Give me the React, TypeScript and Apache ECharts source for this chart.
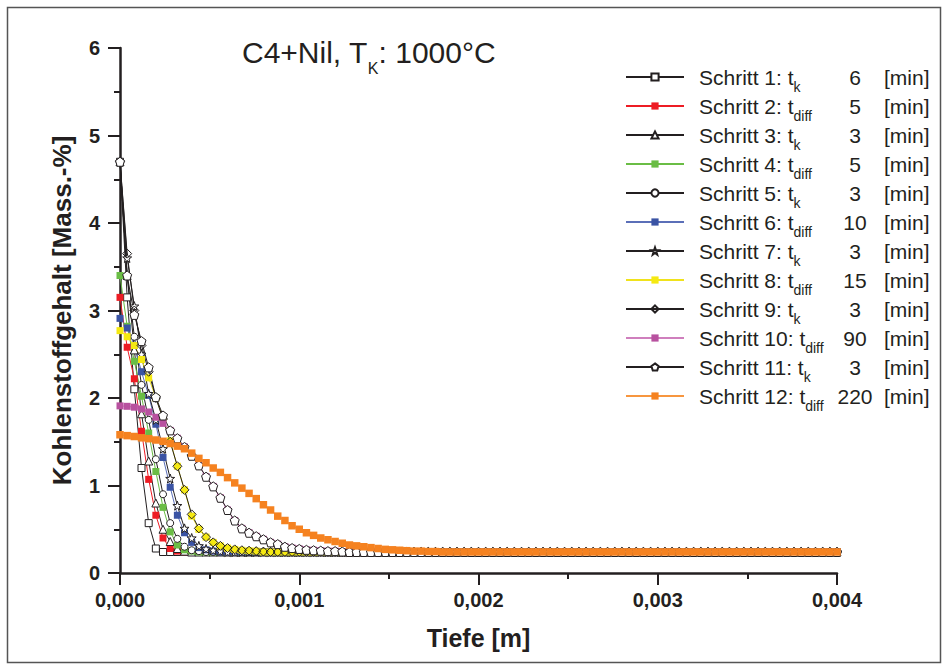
import React, { useEffect, useRef } from 'react';
import * as echarts from 'echarts';

// depth grid step [m]; profile values sampled every STEP from 0 to 0.004 m
const STEP = 0.00004;

const STEP_NAMES = ['Schritt 1', 'Schritt 2', 'Schritt 3', 'Schritt 4', 'Schritt 5', 'Schritt 6',
  'Schritt 7', 'Schritt 8', 'Schritt 9', 'Schritt 10', 'Schritt 11', 'Schritt 12'];
const STEP_SUBS = ['k', 'diff', 'k', 'diff', 'k', 'diff', 'k', 'diff', 'k', 'diff', 'k', 'diff'];
const STEP_MINUTES = ['6', '5', '3', '5', '3', '10', '3', '15', '3', '90', '3', '220'];
const X_TICKS = [0, 0.001, 0.002, 0.003, 0.004];
const Y_TICKS = [0, 1, 2, 3, 4, 5, 6];

const S1 = [
  4.7, 3.15, 2.1, 1.2, 0.57, 0.28, 0.24, 0.24, 0.24, 0.24,
  0.24, 0.24, 0.24, 0.24, 0.24, 0.24, 0.24, 0.24, 0.24, 0.24,
  0.24, 0.24, 0.24, 0.24, 0.24, 0.24, 0.24, 0.24, 0.24, 0.24,
  0.24, 0.24, 0.24, 0.24, 0.24, 0.24, 0.24, 0.24, 0.24, 0.24,
  0.24, 0.24, 0.24, 0.24, 0.24, 0.24, 0.24, 0.24, 0.24, 0.24,
  0.24, 0.24, 0.24, 0.24, 0.24, 0.24, 0.24, 0.24, 0.24, 0.24,
  0.24, 0.24, 0.24, 0.24, 0.24, 0.24, 0.24, 0.24, 0.24, 0.24,
  0.24, 0.24, 0.24, 0.24, 0.24, 0.24, 0.24, 0.24, 0.24, 0.24,
  0.24, 0.24, 0.24, 0.24, 0.24, 0.24, 0.24, 0.24, 0.24, 0.24,
  0.24, 0.24, 0.24, 0.24, 0.24, 0.24, 0.24, 0.24, 0.24, 0.24,
  0.24,
];
const S2 = [
  3.15, 2.58, 2.22, 1.62, 1.07, 0.66, 0.40, 0.28, 0.25, 0.24,
  0.24, 0.24, 0.24, 0.24, 0.24, 0.24, 0.24, 0.24, 0.24, 0.24,
  0.24, 0.24, 0.24, 0.24, 0.24, 0.24, 0.24, 0.24, 0.24, 0.24,
  0.24, 0.24, 0.24, 0.24, 0.24, 0.24, 0.24, 0.24, 0.24, 0.24,
  0.24, 0.24, 0.24, 0.24, 0.24, 0.24, 0.24, 0.24, 0.24, 0.24,
  0.24, 0.24, 0.24, 0.24, 0.24, 0.24, 0.24, 0.24, 0.24, 0.24,
  0.24, 0.24, 0.24, 0.24, 0.24, 0.24, 0.24, 0.24, 0.24, 0.24,
  0.24, 0.24, 0.24, 0.24, 0.24, 0.24, 0.24, 0.24, 0.24, 0.24,
  0.24, 0.24, 0.24, 0.24, 0.24, 0.24, 0.24, 0.24, 0.24, 0.24,
  0.24, 0.24, 0.24, 0.24, 0.24, 0.24, 0.24, 0.24, 0.24, 0.24,
  0.24,
];
const S3 = [
  4.7, 3.4, 2.55, 1.82, 1.28, 0.80, 0.50, 0.36, 0.28, 0.25,
  0.24, 0.24, 0.24, 0.24, 0.24, 0.24, 0.24, 0.24, 0.24, 0.24,
  0.24, 0.24, 0.24, 0.24, 0.24, 0.24, 0.24, 0.24, 0.24, 0.24,
  0.24, 0.24, 0.24, 0.24, 0.24, 0.24, 0.24, 0.24, 0.24, 0.24,
  0.24, 0.24, 0.24, 0.24, 0.24, 0.24, 0.24, 0.24, 0.24, 0.24,
  0.24, 0.24, 0.24, 0.24, 0.24, 0.24, 0.24, 0.24, 0.24, 0.24,
  0.24, 0.24, 0.24, 0.24, 0.24, 0.24, 0.24, 0.24, 0.24, 0.24,
  0.24, 0.24, 0.24, 0.24, 0.24, 0.24, 0.24, 0.24, 0.24, 0.24,
  0.24, 0.24, 0.24, 0.24, 0.24, 0.24, 0.24, 0.24, 0.24, 0.24,
  0.24, 0.24, 0.24, 0.24, 0.24, 0.24, 0.24, 0.24, 0.24, 0.24,
  0.24,
];
const S4 = [
  3.40, 2.82, 2.42, 2.02, 1.60, 1.16, 0.75, 0.47, 0.32, 0.265,
  0.25, 0.24, 0.24, 0.24, 0.24, 0.24, 0.24, 0.24, 0.24, 0.24,
  0.24, 0.24, 0.24, 0.24, 0.24, 0.24, 0.24, 0.24, 0.24, 0.24,
  0.24, 0.24, 0.24, 0.24, 0.24, 0.24, 0.24, 0.24, 0.24, 0.24,
  0.24, 0.24, 0.24, 0.24, 0.24, 0.24, 0.24, 0.24, 0.24, 0.24,
  0.24, 0.24, 0.24, 0.24, 0.24, 0.24, 0.24, 0.24, 0.24, 0.24,
  0.24, 0.24, 0.24, 0.24, 0.24, 0.24, 0.24, 0.24, 0.24, 0.24,
  0.24, 0.24, 0.24, 0.24, 0.24, 0.24, 0.24, 0.24, 0.24, 0.24,
  0.24, 0.24, 0.24, 0.24, 0.24, 0.24, 0.24, 0.24, 0.24, 0.24,
  0.24, 0.24, 0.24, 0.24, 0.24, 0.24, 0.24, 0.24, 0.24, 0.24,
  0.24,
];
const S5 = [
  4.7, 3.4, 2.7, 2.15, 1.75, 1.30, 0.90, 0.57, 0.39, 0.30,
  0.26, 0.25, 0.24, 0.24, 0.24, 0.24, 0.24, 0.24, 0.24, 0.24,
  0.24, 0.24, 0.24, 0.24, 0.24, 0.24, 0.24, 0.24, 0.24, 0.24,
  0.24, 0.24, 0.24, 0.24, 0.24, 0.24, 0.24, 0.24, 0.24, 0.24,
  0.24, 0.24, 0.24, 0.24, 0.24, 0.24, 0.24, 0.24, 0.24, 0.24,
  0.24, 0.24, 0.24, 0.24, 0.24, 0.24, 0.24, 0.24, 0.24, 0.24,
  0.24, 0.24, 0.24, 0.24, 0.24, 0.24, 0.24, 0.24, 0.24, 0.24,
  0.24, 0.24, 0.24, 0.24, 0.24, 0.24, 0.24, 0.24, 0.24, 0.24,
  0.24, 0.24, 0.24, 0.24, 0.24, 0.24, 0.24, 0.24, 0.24, 0.24,
  0.24, 0.24, 0.24, 0.24, 0.24, 0.24, 0.24, 0.24, 0.24, 0.24,
  0.24,
];
const S6 = [
  2.91, 2.8, 2.6, 2.3, 2.03, 1.70, 1.32, 0.98, 0.66, 0.46,
  0.35, 0.29, 0.265, 0.25, 0.24, 0.24, 0.24, 0.24, 0.24, 0.24,
  0.24, 0.24, 0.24, 0.24, 0.24, 0.24, 0.24, 0.24, 0.24, 0.24,
  0.24, 0.24, 0.24, 0.24, 0.24, 0.24, 0.24, 0.24, 0.24, 0.24,
  0.24, 0.24, 0.24, 0.24, 0.24, 0.24, 0.24, 0.24, 0.24, 0.24,
  0.24, 0.24, 0.24, 0.24, 0.24, 0.24, 0.24, 0.24, 0.24, 0.24,
  0.24, 0.24, 0.24, 0.24, 0.24, 0.24, 0.24, 0.24, 0.24, 0.24,
  0.24, 0.24, 0.24, 0.24, 0.24, 0.24, 0.24, 0.24, 0.24, 0.24,
  0.24, 0.24, 0.24, 0.24, 0.24, 0.24, 0.24, 0.24, 0.24, 0.24,
  0.24, 0.24, 0.24, 0.24, 0.24, 0.24, 0.24, 0.24, 0.24, 0.24,
  0.24,
];
const S7 = [
  4.7, 3.6, 3.05, 2.5, 2.05, 1.75, 1.42, 1.08, 0.77, 0.51,
  0.40, 0.31, 0.275, 0.26, 0.25, 0.24, 0.24, 0.24, 0.24, 0.24,
  0.24, 0.24, 0.24, 0.24, 0.24, 0.24, 0.24, 0.24, 0.24, 0.24,
  0.24, 0.24, 0.24, 0.24, 0.24, 0.24, 0.24, 0.24, 0.24, 0.24,
  0.24, 0.24, 0.24, 0.24, 0.24, 0.24, 0.24, 0.24, 0.24, 0.24,
  0.24, 0.24, 0.24, 0.24, 0.24, 0.24, 0.24, 0.24, 0.24, 0.24,
  0.24, 0.24, 0.24, 0.24, 0.24, 0.24, 0.24, 0.24, 0.24, 0.24,
  0.24, 0.24, 0.24, 0.24, 0.24, 0.24, 0.24, 0.24, 0.24, 0.24,
  0.24, 0.24, 0.24, 0.24, 0.24, 0.24, 0.24, 0.24, 0.24, 0.24,
  0.24, 0.24, 0.24, 0.24, 0.24, 0.24, 0.24, 0.24, 0.24, 0.24,
  0.24,
];
const S8 = [
  2.77, 2.70, 2.60, 2.44, 2.23, 2.00, 1.77, 1.51, 1.22, 0.95,
  0.65, 0.50, 0.41, 0.35, 0.31, 0.285, 0.27, 0.26, 0.255, 0.25,
  0.24, 0.24, 0.24, 0.24, 0.24, 0.24, 0.24, 0.24, 0.24, 0.24,
  0.24, 0.24, 0.24, 0.24, 0.24, 0.24, 0.24, 0.24, 0.24, 0.24,
  0.24, 0.24, 0.24, 0.24, 0.24, 0.24, 0.24, 0.24, 0.24, 0.24,
  0.24, 0.24, 0.24, 0.24, 0.24, 0.24, 0.24, 0.24, 0.24, 0.24,
  0.24, 0.24, 0.24, 0.24, 0.24, 0.24, 0.24, 0.24, 0.24, 0.24,
  0.24, 0.24, 0.24, 0.24, 0.24, 0.24, 0.24, 0.24, 0.24, 0.24,
  0.24, 0.24, 0.24, 0.24, 0.24, 0.24, 0.24, 0.24, 0.24, 0.24,
  0.24, 0.24, 0.24, 0.24, 0.24, 0.24, 0.24, 0.24, 0.24, 0.24,
  0.24,
];
const S9 = [
  4.7, 3.65, 3.0, 2.6, 2.3, 2.0, 1.76, 1.5, 1.22, 0.95,
  0.67, 0.51, 0.41, 0.35, 0.31, 0.285, 0.27, 0.26, 0.255, 0.25,
  0.245, 0.24, 0.24, 0.24, 0.24, 0.24, 0.24, 0.24, 0.24, 0.24,
  0.24, 0.24, 0.24, 0.24, 0.24, 0.24, 0.24, 0.24, 0.24, 0.24,
  0.24, 0.24, 0.24, 0.24, 0.24, 0.24, 0.24, 0.24, 0.24, 0.24,
  0.24, 0.24, 0.24, 0.24, 0.24, 0.24, 0.24, 0.24, 0.24, 0.24,
  0.24, 0.24, 0.24, 0.24, 0.24, 0.24, 0.24, 0.24, 0.24, 0.24,
  0.24, 0.24, 0.24, 0.24, 0.24, 0.24, 0.24, 0.24, 0.24, 0.24,
  0.24, 0.24, 0.24, 0.24, 0.24, 0.24, 0.24, 0.24, 0.24, 0.24,
  0.24, 0.24, 0.24, 0.24, 0.24, 0.24, 0.24, 0.24, 0.24, 0.24,
  0.24,
];
const S10 = [
  1.91, 1.905, 1.895, 1.875, 1.84, 1.78, 1.71, 1.63, 1.54, 1.44,
  1.34, 1.23, 1.10, 0.99, 0.86, 0.72, 0.60, 0.51, 0.46, 0.42,
  0.385, 0.35, 0.33, 0.30, 0.285, 0.275, 0.265, 0.26, 0.255, 0.25,
  0.25, 0.245, 0.24, 0.24, 0.24, 0.24, 0.24, 0.24, 0.24, 0.24,
  0.24, 0.24, 0.24, 0.24, 0.24, 0.24, 0.24, 0.24, 0.24, 0.24,
  0.24, 0.24, 0.24, 0.24, 0.24, 0.24, 0.24, 0.24, 0.24, 0.24,
  0.24, 0.24, 0.24, 0.24, 0.24, 0.24, 0.24, 0.24, 0.24, 0.24,
  0.24, 0.24, 0.24, 0.24, 0.24, 0.24, 0.24, 0.24, 0.24, 0.24,
  0.24, 0.24, 0.24, 0.24, 0.24, 0.24, 0.24, 0.24, 0.24, 0.24,
  0.24, 0.24, 0.24, 0.24, 0.24, 0.24, 0.24, 0.24, 0.24, 0.24,
  0.24,
];
const S11 = [
  4.7, 3.4, 2.95, 2.65, 2.35, 2.01, 1.80, 1.63, 1.54, 1.44,
  1.34, 1.23, 1.10, 0.99, 0.86, 0.72, 0.60, 0.51, 0.46, 0.42,
  0.385, 0.35, 0.33, 0.30, 0.285, 0.275, 0.265, 0.26, 0.255, 0.25,
  0.25, 0.245, 0.24, 0.24, 0.24, 0.24, 0.24, 0.24, 0.24, 0.24,
  0.24, 0.24, 0.24, 0.24, 0.24, 0.24, 0.24, 0.24, 0.24, 0.24,
  0.24, 0.24, 0.24, 0.24, 0.24, 0.24, 0.24, 0.24, 0.24, 0.24,
  0.24, 0.24, 0.24, 0.24, 0.24, 0.24, 0.24, 0.24, 0.24, 0.24,
  0.24, 0.24, 0.24, 0.24, 0.24, 0.24, 0.24, 0.24, 0.24, 0.24,
  0.24, 0.24, 0.24, 0.24, 0.24, 0.24, 0.24, 0.24, 0.24, 0.24,
  0.24, 0.24, 0.24, 0.24, 0.24, 0.24, 0.24, 0.24, 0.24, 0.24,
  0.24,
];
const S12 = [
  1.58, 1.57, 1.56, 1.545, 1.535, 1.52, 1.505, 1.48, 1.45, 1.42,
  1.37, 1.31, 1.26, 1.20, 1.15, 1.09, 1.03, 0.97, 0.91, 0.85,
  0.78, 0.72, 0.65, 0.60, 0.54, 0.50, 0.46, 0.43, 0.40, 0.38,
  0.36, 0.34, 0.32, 0.31, 0.30, 0.29, 0.28, 0.27, 0.265, 0.26,
  0.255, 0.25, 0.25, 0.245, 0.245, 0.24, 0.24, 0.24, 0.24, 0.24,
  0.24, 0.24, 0.24, 0.24, 0.24, 0.24, 0.24, 0.24, 0.24, 0.24,
  0.24, 0.24, 0.24, 0.24, 0.24, 0.24, 0.24, 0.24, 0.24, 0.24,
  0.24, 0.24, 0.24, 0.24, 0.24, 0.24, 0.24, 0.24, 0.24, 0.24,
  0.24, 0.24, 0.24, 0.24, 0.24, 0.24, 0.24, 0.24, 0.24, 0.24,
  0.24, 0.24, 0.24, 0.24, 0.24, 0.24, 0.24, 0.24, 0.24, 0.24,
  0.24,
];
const PROFILES = [S1, S2, S3, S4, S5, S6, S7, S8, S9, S10, S11, S12];

const FONT = '"Liberation Sans", Arial, Helvetica, sans-serif';
const INK = '#231f20';
const STAR = 'path://M0,-10L2.35,-3.24L9.51,-3.09L3.8,1.24L5.88,8.09L0,4L-5.88,8.09L-3.8,1.24L-9.51,-3.09L-2.35,-3.24Z';
const PENTA = 'path://M0,-10L9.51,-3.09L5.88,8.09L-5.88,8.09L-9.51,-3.09Z';

type Look = { symbol: string; size: number; fill: string; border: string; line: string };
const LOOKS: Look[] = [
  { symbol: 'rect', size: 7, fill: '#ffffff', border: INK, line: INK },
  { symbol: 'rect', size: 7, fill: '#ed1c24', border: 'transparent', line: '#ed1c24' },
  { symbol: 'triangle', size: 8, fill: '#ffffff', border: INK, line: INK },
  { symbol: 'rect', size: 7, fill: '#6abd45', border: 'transparent', line: '#6abd45' },
  { symbol: 'circle', size: 7, fill: '#ffffff', border: INK, line: INK },
  { symbol: 'rect', size: 7, fill: '#3a53a4', border: 'transparent', line: '#5b6fb8' },
  { symbol: STAR, size: 9, fill: '#ffffff', border: INK, line: INK },
  { symbol: 'rect', size: 7, fill: '#f5e911', border: 'transparent', line: '#f0e21c' },
  { symbol: 'diamond', size: 9, fill: 'rgba(0,0,0,0)', border: INK, line: INK },
  { symbol: 'rect', size: 7, fill: '#b8519f', border: 'transparent', line: '#cf7fbd' },
  { symbol: PENTA, size: 9, fill: '#ffffff', border: INK, line: INK },
  { symbol: 'rect', size: 7.5, fill: '#f58220', border: 'transparent', line: '#f7963f' },
];

function measure(text: string, size: number): number {
  const ctx = document.createElement('canvas').getContext('2d');
  if (!ctx) return text.length * size * 0.5;
  ctx.font = `${size}px ${FONT}`;
  return ctx.measureText(text).width;
}

function buildOption() {
  const rich: Record<string, any> = {
    a: { fontSize: 21, lineHeight: 27, padding: [0, 0, 0, 10], fontFamily: FONT, color: INK },
    n: { fontSize: 21, lineHeight: 27, width: 30, align: 'center', fontFamily: FONT, color: INK },
    m: { fontSize: 21, lineHeight: 27, padding: [0, 0, 0, 14], fontFamily: FONT, color: INK },
  };
  STEP_NAMES.forEach((name, i) => {
    const w = measure(`${name}: t`, 21);
    rich['k' + i] = {
      fontSize: 14, lineHeight: 8, padding: [20, 0, 0, 0], fontFamily: FONT, color: INK,
      width: Math.max(20, 141 - w),
    };
  });

  const series = PROFILES.map((ys, i) => {
    const look = LOOKS[i];
    return {
      type: 'line',
      name: STEP_NAMES[i],
      data: ys.map((y, j) => [j * STEP, y]),
      symbol: look.symbol,
      symbolSize: look.size,
      showAllSymbol: true,
      itemStyle: { color: look.fill, borderColor: look.border, borderWidth: look.border === 'transparent' ? 0 : 1 },
      lineStyle: { color: look.line, width: 1 },
      emphasis: { disabled: true },
      silent: true,
    };
  });

  return {
    animation: false,
    backgroundColor: '#ffffff',
    title: {
      text: '{a|C4+Nil, T}{s|K}{a|: 1000°C}',
      left: 237,
      top: 29,
      textStyle: {
        fontWeight: 'normal',
        rich: {
          a: { fontSize: 30, lineHeight: 37, fontFamily: FONT, color: INK, fontWeight: 'normal' },
          s: { fontSize: 16, lineHeight: 6, padding: [32, 0, 0, 0], fontFamily: FONT, color: INK, fontWeight: 'normal' },
        },
      },
    },
    legend: {
      orient: 'vertical',
      left: 620,
      top: 55,
      padding: 5,
      itemWidth: 58,
      itemHeight: 9,
      itemGap: -5,
      selectedMode: false,
      data: STEP_NAMES,
      formatter: (name: string) => {
        const i = STEP_NAMES.indexOf(name);
        return `{a|${name}: t}{k${i}|${STEP_SUBS[i]}}{n|${STEP_MINUTES[i]}}{m|[min]}`;
      },
      textStyle: { fontFamily: FONT, color: INK, fontSize: 21, rich },
    },
    grid: { left: 120, right: 107, top: 48, bottom: 93, containLabel: false },
    xAxis: {
      type: 'value',
      min: X_TICKS[0],
      max: X_TICKS[X_TICKS.length - 1],
      interval: X_TICKS[1] - X_TICKS[0],
      name: 'Tiefe [m]',
      nameLocation: 'middle',
      nameGap: 52,
      nameTextStyle: { fontFamily: FONT, fontSize: 25, fontWeight: 'bold', color: INK },
      axisLine: { show: true, onZero: false, lineStyle: { color: INK, width: 2.5 } },
      axisTick: { show: true, length: 12, lineStyle: { color: INK, width: 2 } },
      minorTick: { show: true, splitNumber: 2, length: 6, lineStyle: { color: INK, width: 2 } },
      splitLine: { show: false },
      axisLabel: {
        margin: 17,
        fontFamily: FONT, fontSize: 20, fontWeight: 'bold', color: INK,
        formatter: (v: number) => v.toFixed(3).replace('.', ','),
      },
    },
    yAxis: {
      type: 'value',
      min: Y_TICKS[0],
      max: Y_TICKS[Y_TICKS.length - 1],
      interval: 1,
      name: 'Kohlenstoffgehalt [Mass.-%]',
      nameLocation: 'middle',
      nameGap: 45,
      nameRotate: 90,
      nameTextStyle: { fontFamily: FONT, fontSize: 26, fontWeight: 'bold', color: INK },
      axisLine: { show: true, lineStyle: { color: INK, width: 2.5 } },
      axisTick: { show: true, length: 12, lineStyle: { color: INK, width: 2 } },
      minorTick: { show: true, splitNumber: 2, length: 6, lineStyle: { color: INK, width: 2 } },
      splitLine: { show: false },
      axisLabel: { margin: 20, fontFamily: FONT, fontSize: 20, fontWeight: 'bold', color: INK },
    },
    graphic: [
      {
        type: 'rect',
        silent: true,
        z: -10,
        shape: { x: 7.5, y: 7.5, width: 933, height: 655 },
        style: { fill: 'none', stroke: '#555555', lineWidth: 1.5 },
      },
    ],
    series,
  };
}

export default function App() {
  const ref = useRef<HTMLDivElement>(null);
  useEffect(() => {
    if (!ref.current) return;
    const chart = echarts.init(ref.current, null, { renderer: 'svg' });
    chart.setOption(buildOption() as any);
    return () => chart.dispose();
  }, []);
  return (
    <div
      ref={ref}
      style={{ position: 'fixed', left: 0, top: 0, width: 944, height: 666, background: '#ffffff' }}
    />
  );
}
